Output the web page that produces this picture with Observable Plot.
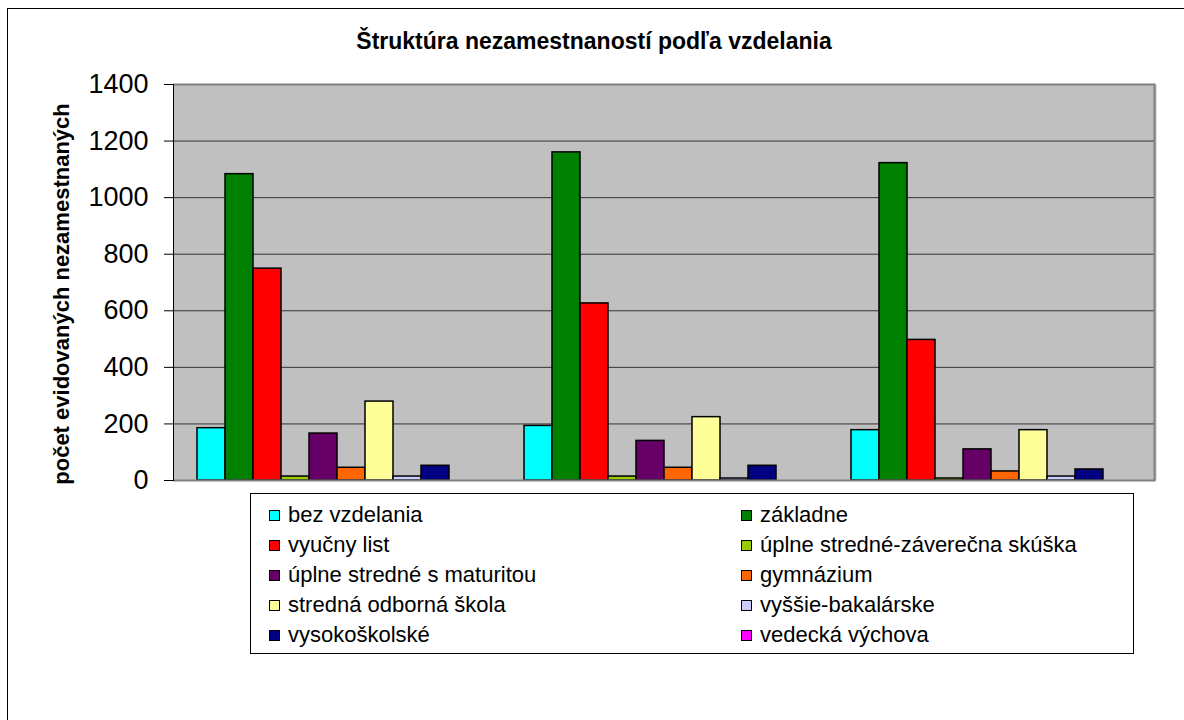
<!DOCTYPE html>
<html>
<head>
<meta charset="utf-8">
<script src="https://cdn.jsdelivr.net/npm/d3@7"></script>
<script src="https://cdn.jsdelivr.net/npm/@observablehq/plot@0.6"></script>
<style>
  html, body { margin: 0; padding: 0; background: #fff; }
  #wrap { position: relative; width: 1184px; height: 720px; overflow: hidden; background: #fff;
          font-family: "Liberation Sans", Arial, sans-serif; color: #000; }
  #outer { position: absolute; left: 7px; top: 8px; width: 1250px; height: 800px; border: 1.5px solid #000; }
  #title { position: absolute; left: 0; top: 28px; width: 1188px; text-align: center; font-weight: bold; font-size: 23px; }
  #ylabel { position: absolute; left: 62px; top: 294px; transform: translate(-50%, -50%) rotate(-90deg);
            white-space: nowrap; font-weight: bold; font-size: 22px; }
  #chart { position: absolute; left: 0; top: 0; }
  #legend { position: absolute; left: 250px; top: 493px; width: 884px; height: 161px; border: 1px solid #000;
            box-sizing: border-box; background: #fff; display: grid; grid-template-columns: 490px 1fr;
            grid-auto-rows: 30px; padding-top: 6px; font-size: 22px; }
  .item { display: flex; align-items: center; white-space: nowrap; }
  .item.c0 { padding-left: 18px; }
  .item.c1 { padding-left: 0px; }
  .sw { width: 9px; height: 9px; border: 1px solid #000; margin-right: 8px; flex: none; }
</style>
</head>
<body>
<div id="wrap">
  <div id="outer"></div>
  <div id="title"></div>
  <div id="ylabel"></div>
  <div id="chart"></div>
  <div id="legend"></div>
</div>
<script>
const title = "Štruktúra nezamestnaností podľa vzdelania";
const yLabel = "počet evidovaných nezamestnaných";
const categories = ["1", "2", "3"];
const series = [
  "bez vzdelania", "základne", "vyučny list", "úplne stredné-záverečna skúška",
  "úplne stredné s maturitou", "gymnázium", "stredná odborná škola",
  "vyššie-bakalárske", "vysokoškolské", "vedecká výchova"
];
const colors = ["#00ffff", "#008000", "#ff0000", "#99cc00", "#660066", "#ff6600", "#ffff99", "#ccccff", "#000080", "#ff00ff"];
const group1 = [185, 1083, 749, 14, 166, 45, 279, 14, 52, 0];
const group2 = [193, 1160, 626, 14, 140, 45, 224, 7, 52, 0];
const group3 = [178, 1122, 497, 7, 110, 32, 178, 14, 39, 0];
const yTicks = [0, 200, 400, 600, 800, 1000, 1200, 1400];

const groups = [group1, group2, group3];
const data = [];
groups.forEach((vals, gi) => vals.forEach((v, si) => data.push({group: categories[gi], series: series[si], value: v})));

document.getElementById("title").textContent = title;
document.getElementById("ylabel").textContent = yLabel;

const chart = Plot.plot({
  width: 1184,
  height: 500,
  marginTop: 84,
  marginBottom: 20,
  marginLeft: 173,
  marginRight: 30,
  style: {fontFamily: "Liberation Sans, Arial, sans-serif", background: "transparent", color: "#000"},
  fx: {domain: categories, padding: 0, axis: null},
  x: {domain: series, paddingInner: 0, paddingOuter: 0.75, axis: null},
  y: {domain: [0, 1400], axis: null},
  color: {domain: series, range: colors},
  marks: [
    Plot.frame({fill: "#c0c0c0", stroke: "none", insetRight: -2}),
    Plot.gridY(yTicks.filter(d => d > 0 && d < 1400), {stroke: "#333", strokeOpacity: 1, strokeWidth: 1}),
    Plot.ruleY([1400], {stroke: "#808080", strokeWidth: 2}),
    Plot.barY(data, {fx: "group", x: "series", y: "value", fill: "series", stroke: "#000", strokeWidth: 1.5, inset: 0}),
    Plot.ruleY([0], {stroke: "#808080", strokeWidth: 2}),
    Plot.frame({anchor: "right", facetAnchor: "right", stroke: "#808080", strokeWidth: 2}),
    Plot.frame({anchor: "left", facetAnchor: "left", stroke: "#000", strokeWidth: 1}),
    Plot.axisY({ticks: yTicks, tickFormat: d => String(d), tickSize: 9, tickPadding: 16, fontSize: 27, label: null, anchor: "left", stroke: "#000", strokeOpacity: 1})
  ]
});
document.getElementById("chart").appendChild(chart);

const legend = document.getElementById("legend");
series.forEach((s, i) => {
  const item = document.createElement("div");
  item.className = "item c" + (i % 2);
  const sw = document.createElement("span");
  sw.className = "sw";
  sw.style.background = colors[i];
  const t = document.createElement("span");
  t.textContent = s;
  item.appendChild(sw);
  item.appendChild(t);
  legend.appendChild(item);
});
</script>
</body>
</html>
